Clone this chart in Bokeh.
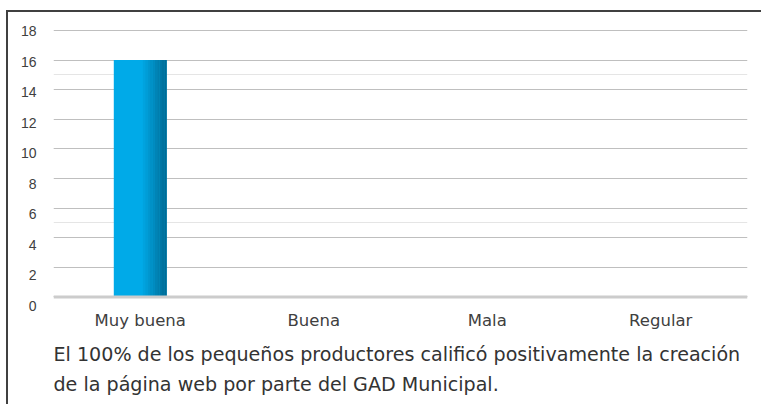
from bokeh.plotting import figure
from bokeh.models import (ColumnDataSource, Range1d, LinearAxis,
                          Grid, Span, Title, FixedTicker)
from bokeh.transform import dodge
from bokeh.embed import file_html
from bokeh.resources import INLINE

# ---- data ----
categories = ["Muy buena", "Buena", "Mala", "Regular"]
counts = [16, 0, 0, 0]
y_ticks = [0, 2, 4, 6, 8, 10, 12, 14, 16, 18]
caption_lines = [
    "El 100% de los pequeños productores calificó positivamente la creación",
    "de la página web por parte del GAD Municipal.",
]

FONT = "DejaVu Sans"
TXT = "#404040"

p = figure(x_range=categories, y_range=Range1d(-0.777, 18.675),
           width=755, height=394, output_backend="svg", toolbar_location=None,
           y_axis_location=None, min_border_left=45, min_border_top=8,
           min_border_right=16, min_border_bottom=98)
p.styles = {"border-top": "2px solid #404040", "border-left": "2px solid #404040",
            "margin-left": "6px", "margin-top": "10px"}
p.outline_line_color = None
p.background_fill_color = "white"
p.border_fill_color = "white"
p.xgrid.grid_line_color = None

# horizontal gridlines on data scale
grid = Grid(dimension=1, ticker=FixedTicker(ticks=y_ticks),
            grid_line_color="#bfbfbf", grid_line_width=1)
p.add_layout(grid)
p.add_layout(Span(location=0, dimension="width", line_color="#cccccc", line_width=3))

# y tick label axis (labels sit slightly lower than gridlines in the reference)
p.extra_y_ranges = {"lab": Range1d(-0.164, 18.72)}
yax = LinearAxis(y_range_name="lab", ticker=FixedTicker(ticks=y_ticks))
yax.axis_line_color = None
yax.major_tick_line_color = None
yax.minor_tick_line_color = None
yax.major_tick_out = 0
yax.major_label_standoff = 17
yax.major_label_text_font = "Liberation Sans"
yax.major_label_text_font_size = "14px"
yax.major_label_text_color = TXT
p.add_layout(yax, "left")

xax = p.xaxis[0]
xax.axis_line_color = None
xax.major_tick_line_color = None
xax.major_tick_out = 0
xax.major_label_standoff = 2
xax.major_label_text_font = FONT
xax.major_label_text_font_size = "16.5px"
xax.major_label_text_color = TXT

src = ColumnDataSource(dict(cat=categories, count=counts))
BW = 0.305
p.vbar(x="cat", top="count", width=BW, source=src, fill_color="#00aae8", line_color=None)

# right-side shading of the bar (gradient imitation)
n = 10
start = 0.05 * BW
seg = (BW / 2 - start) / n
c0 = (0x00, 0xaa, 0xe8)
c1 = (0x00, 0x6c, 0x96)
for i in range(n):
    t = (i + 1) / n
    col = "#%02x%02x%02x" % tuple(int(a + (b - a) * t) for a, b in zip(c0, c1))
    off = start + seg * (i + 0.5)
    p.vbar(x=dodge("cat", off, range=p.x_range), top="count", width=seg * 1.05,
           source=src, fill_color=col, line_color=None)

for k, line in enumerate(caption_lines):
    t = Title(text=line, align="left", text_font=FONT, text_font_size="19.1px",
              text_font_style="normal", text_color="#333333", offset=0,
              standoff=16 if k == 0 else -6)
    p.add_layout(t, "below")

open("out.html", "w").write(file_html(p, INLINE))
